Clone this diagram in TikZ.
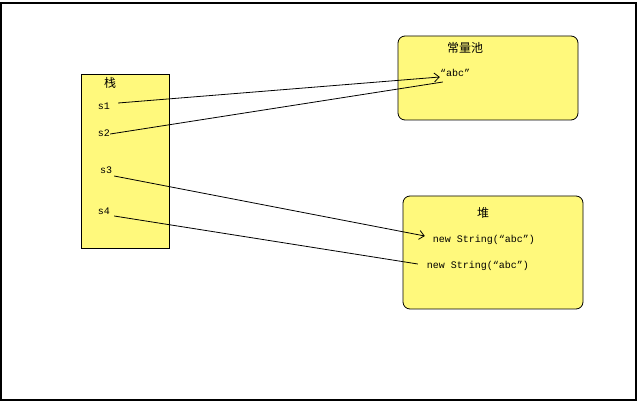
\documentclass[tikz,border=0pt]{standalone}
\usepackage{fontspec}
\setmonofont{Liberation Mono}
\newfontfamily\cjk{Noto Sans CJK SC}
\usetikzlibrary{arrows.meta}

\definecolor{memyellow}{HTML}{FFF97C}

\begin{document}
\begin{tikzpicture}[
    x=1pt, y=-1pt,
    area/.style={draw=black, line width=0.8pt, fill=memyellow, inner sep=0pt},
    pool/.style={area, rounded corners=7pt},
    title/.style={font=\cjk\fontsize{12}{14}\selectfont, inner sep=0pt},
    var/.style={font=\ttfamily\fontsize{10}{12}\selectfont, inner sep=0pt},
    ref/.style={draw=black, line width=0.8pt},
    refarr/.style={ref, -{Straight Barb[length=5pt, width=9pt]}},
]
\useasboundingbox (0,0) rectangle (640,403);
\draw[line width=1.4pt] (1,3) rectangle (636,400);

% --- Memory areas ---
\node[area, minimum width=88pt, minimum height=174pt] (stack) at (125,161) {};
\node[pool, minimum width=180pt, minimum height=84pt] (constpool) at (488,78) {};
\node[pool, minimum width=180pt, minimum height=113pt] (heap) at (493,252.5) {};

% --- Titles ---
\node[title] (stacktitle) at (110,83) {栈};
\node[title] (pooltitle)  at (465,48) {常量池};
\node[title] (heaptitle)  at (483,213) {堆};

% --- Variables and objects ---
\node[var] (s1) at (104,106) {s1};
\node[var] (s2) at (104,133) {s2};
\node[var] (s3) at (106,170) {s3};
\node[var] (s4) at (104,211) {s4};
\node[var] (abc)   at (455,73)  {“abc”};
\node[var] (obj1)  at (484,240) {new String(“abc”)};
\node[var] (obj2)  at (478,266) {new String(“abc”)};

% --- References ---
\draw[refarr] ([xshift=8pt, yshift=3pt]s1.east) -- ([yshift=-4pt]abc.west);
\draw[ref] ([yshift=-1pt]s2.east) -- ([xshift=3pt, yshift=-9pt]abc.west);
\draw[refarr] ([xshift=2pt, yshift=-6pt]s3.east) -- ([xshift=-8pt, yshift=4pt]obj1.west);
\draw[ref] ([xshift=4pt, yshift=-5pt]s4.east) -- ([xshift=-9pt, yshift=2pt]obj2.west);

\end{tikzpicture}
\end{document}
